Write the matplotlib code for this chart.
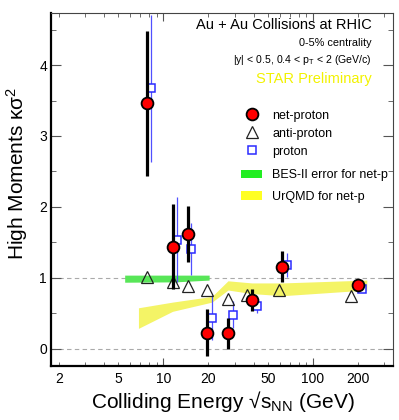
import numpy as np
import matplotlib
matplotlib.use("Agg")
import matplotlib.pyplot as plt
from matplotlib.lines import Line2D
from matplotlib.patches import Patch
from matplotlib.ticker import FixedLocator, FuncFormatter, NullFormatter

plt.rcParams["font.family"] = ["Liberation Sans", "DejaVu Sans"]
plt.rcParams["mathtext.fontset"] = "custom"
plt.rcParams["mathtext.rm"] = "Liberation Sans"
plt.rcParams["mathtext.it"] = "Liberation Sans:italic"

# ── data ────────────────────────────────────────────
energy = [7.7, 11.5, 14.5, 19.6, 27, 39, 62.4, 200]

netp_val = [3.46, 1.44, 1.62, 0.23, 0.22, 0.69, 1.16, 0.90]
netp_err = [1.02, 0.60, 0.39, 0.33, 0.22, 0.15, 0.22, 0.08]

prot_x = [8.3, 12.25, 15.3, 21.2, 29.3, 42.4, 67.3, 214]
prot_val = [3.67, 1.54, 1.41, 0.44, 0.48, 0.60, 1.18, 0.85]
prot_err = [1.03, 0.60, 0.37, 0.32, 0.19, 0.10, 0.17, 0.05]

anti_x = [7.7, 11.5, 14.5, 19.6, 27, 36, 59, 180]
anti_val = [1.02, 0.94, 0.89, 0.83, 0.71, 0.76, 0.83, 0.74]

bes_x = [5.5, 12.0, 20.2]
bes_lo = [0.94, 0.945, 0.97]
bes_hi = [1.04, 1.04, 1.04]

urqmd_x = [6.8, 11.5, 21.1, 27, 39, 62.4, 229]
urqmd_lo = [0.29, 0.53, 0.66, 0.83, 0.78, 0.75, 0.83]
urqmd_hi = [0.58, 0.66, 0.74, 0.96, 0.93, 0.93, 0.97]

x_labelled = [2, 5, 10, 20, 50, 100, 200]

# ── figure ──────────────────────────────────────────
fig = plt.figure(figsize=(3.99, 4.20), dpi=100)
ax = fig.add_axes([0.128, 0.1286, 0.857, 0.840])
ax.set_xscale("log")
ax.set_xlim(1.77, 343)
ax.set_ylim(-0.24, 4.73)

for yv in (0, 1):
    ax.axhline(yv, color="#aaaaaa", ls=(0, (4, 3)), lw=0.8, zorder=0)

# bands
ax.fill_between(bes_x, bes_lo, bes_hi, color="#58e658", lw=0, zorder=1)
ax.fill_between(urqmd_x, urqmd_lo, urqmd_hi, color="#f4f466", lw=0, zorder=1)

# proton
ax.errorbar(prot_x, prot_val, yerr=prot_err, fmt="s", ms=6, mfc="white",
            mec="#2b2bff", mew=1.1, ecolor="#5050ff", elinewidth=0.9,
            capsize=0, zorder=3)
# anti-proton
ax.plot(anti_x, anti_val, "^", ms=8, mfc="none", mec="#222222", mew=0.9,
        zorder=4)
# net-proton
ax.errorbar(energy, netp_val, yerr=netp_err, fmt="o", ms=8.5, mfc="red",
            mec="black", mew=1.3, ecolor="black", elinewidth=2.3,
            capsize=0, zorder=5)

# axes style (ROOT-like)
for side in ("left", "bottom"):
    ax.spines[side].set_linewidth(1.6)
    ax.spines[side].set_color("black")
for side in ("top", "right"):
    ax.spines[side].set_linewidth(0.8)
    ax.spines[side].set_color("#444444")

ax.xaxis.set_major_locator(FixedLocator([10, 100]))
minor_x = [v * d for d in (1, 10, 100) for v in range(2, 10) if v * d < 343]
ax.xaxis.set_minor_locator(FixedLocator(minor_x))
ax.xaxis.set_major_formatter(FuncFormatter(lambda v, p: f"{v:g}"))
ax.xaxis.set_minor_formatter(
    FuncFormatter(lambda v, p: f"{v:g}" if round(v) in x_labelled else ""))
ax.yaxis.set_major_locator(FixedLocator([0, 1, 2, 3, 4]))
ax.yaxis.set_minor_locator(FixedLocator([0.5, 1.5, 2.5, 3.5, 4.5]))
ax.yaxis.set_minor_formatter(NullFormatter())

ax.tick_params(which="both", direction="in", top=True, right=True,
               labelsize=10, color="#555555")
ax.tick_params(axis="x", which="major", length=6, pad=4)
ax.tick_params(axis="x", which="minor", length=3, pad=4, labelsize=10)
ax.tick_params(axis="y", which="major", length=7, pad=3)
ax.tick_params(axis="y", which="minor", length=3.5)

# titles
fig.text(0.558, 0.029, r"Colliding Energy √s$_{\mathrm{NN}}$ (GeV)",
         ha="center", va="baseline", fontsize=15)
fig.text(0.043, 0.588, r"High Moments κσ$^{2}$", ha="center", va="center",
         rotation=90, fontsize=15)

# annotations
tx = 0.9386
ax.text(tx, 0.966, "Au + Au Collisions at RHIC", transform=ax.transAxes,
        ha="right", va="center", fontsize=10.5)
ax.text(tx, 0.915, "0-5% centrality", transform=ax.transAxes,
        ha="right", va="center", fontsize=7.8)
ax.text(tx, 0.867, r"|y| < 0.5, 0.4 < p$_{\mathrm{T}}$ < 2 (GeV/c)",
        transform=ax.transAxes, ha="right", va="center", fontsize=7.6)
ax.text(tx, 0.813, "STAR Preliminary", transform=ax.transAxes,
        ha="right", va="center", fontsize=10.5, color="#f2f200")

# legend: markers and bands in two blocks (bands spaced wider)
leg_kw = dict(loc="upper left", frameon=False, fontsize=9, borderpad=0,
              borderaxespad=0, handlelength=1.7, handleheight=0.65,
              handletextpad=0.8)
mark_handles = [
    Line2D([], [], ls="none", marker="o", ms=8.5, mfc="red", mec="black",
           mew=1.3),
    Line2D([], [], ls="none", marker="^", ms=8, mfc="none", mec="#222222",
           mew=0.9),
    Line2D([], [], ls="none", marker="s", ms=6, mfc="white", mec="#2b2bff",
           mew=1.1),
]
leg1 = ax.legend(mark_handles, ["net-proton", "anti-proton", "proton"],
                 bbox_to_anchor=(0.556, 0.727), labelspacing=0.48, **leg_kw)
ax.add_artist(leg1)
band_handles = [Patch(facecolor="#22ee22", edgecolor="none"),
                Patch(facecolor="#ffff22", edgecolor="none")]
ax.legend(band_handles, ["BES-II error for net-p", "UrQMD for net-p"],
          bbox_to_anchor=(0.556, 0.557), labelspacing=0.76, **leg_kw)

fig.savefig("out.png", dpi=100)
